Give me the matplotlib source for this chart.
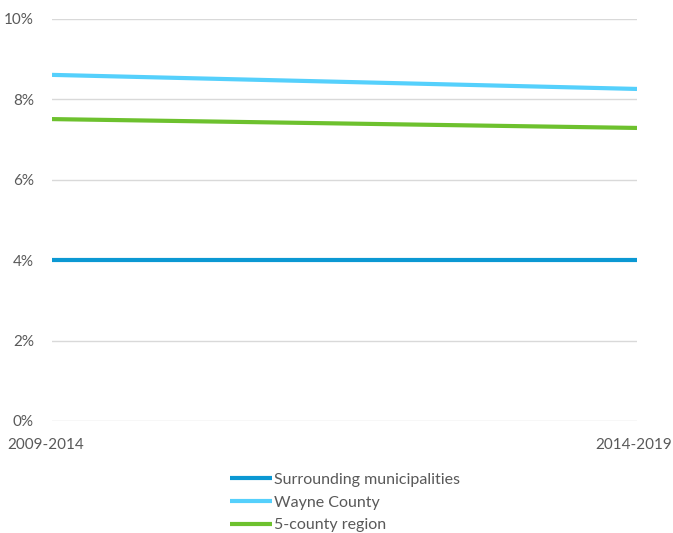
import matplotlib
matplotlib.use("Agg")
import matplotlib.pyplot as plt
from matplotlib.ticker import FuncFormatter
from matplotlib.transforms import ScaledTranslation

plt.rcParams['font.family'] = ['Lato', 'DejaVu Sans']

periods = ["2009-2014", "2014-2019"]
surrounding = [4.0, 4.0]
wayne = [8.61, 8.26]
region = [7.51, 7.29]
yticks = [0, 2, 4, 6, 8, 10]

W, H = 673, 533
fig = plt.figure(figsize=(W/100, H/100), dpi=100)
ax = fig.add_axes([52/W, 1-421/H, (637-52)/W, (421-19)/H])

x = list(range(len(periods)))
ax.plot(x, surrounding, color="#0B98D3", lw=3, label="Surrounding municipalities", solid_capstyle="butt")
ax.plot(x, wayne, color="#55D0FC", lw=3, label="Wayne County", solid_capstyle="butt")
ax.plot(x, region, color="#6DC12E", lw=3, label="5-county region", solid_capstyle="butt")

ax.set_xlim(0, 1)
ax.set_ylim(0, 10)
ax.set_yticks(yticks)
ax.yaxis.set_major_formatter(FuncFormatter(lambda v, p: f"{v:.0f}%"))
ax.set_xticks(x)
ax.set_xticklabels(periods)
ax.grid(axis="y", color="#D9D9D9", lw=1)
ax.set_axisbelow(True)
for s in ax.spines.values():
    s.set_visible(False)
ax.tick_params(length=0, labelsize=11, labelcolor="#595959")
ax.tick_params(axis="x", pad=12)
ax.tick_params(axis="y", pad=13)
lbls = ax.get_xticklabels()
lbls[0].set_transform(lbls[0].get_transform() + ScaledTranslation(-6/100, 0, fig.dpi_scale_trans))
lbls[1].set_transform(lbls[1].get_transform() + ScaledTranslation(-3/100, 0, fig.dpi_scale_trans))

leg = fig.legend(loc="upper center", bbox_to_anchor=(345/W, 1-458/H), frameon=False,
                 fontsize=11.5, handlelength=2.6, handletextpad=0.1, labelspacing=0.55, ncol=1)
for t in leg.get_texts():
    t.set_color("#595959")

fig.savefig("out.png", dpi=100)
